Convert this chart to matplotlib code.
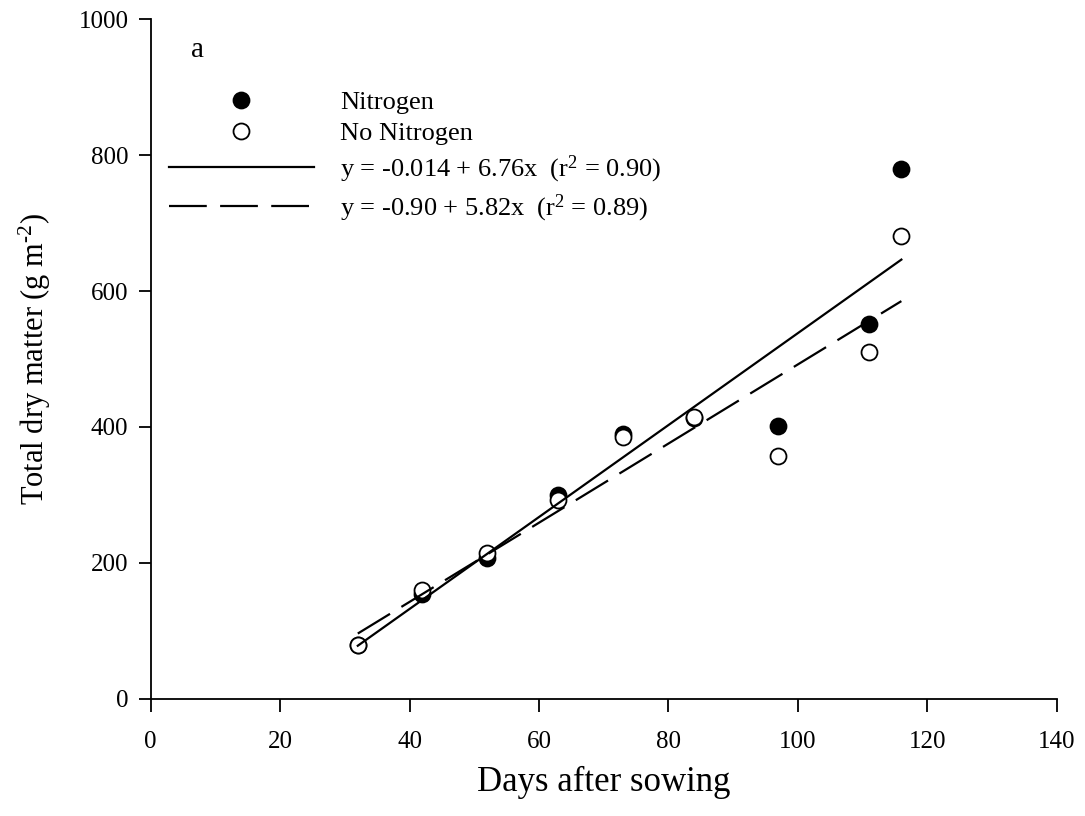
import matplotlib
matplotlib.use("Agg")
import matplotlib.pyplot as plt
import numpy as np

plt.rcParams['font.family'] = ['Liberation Serif', 'DejaVu Serif']
plt.rcParams['mathtext.fontset'] = 'custom'
plt.rcParams['mathtext.rm'] = 'Liberation Serif'
plt.rcParams['mathtext.it'] = 'Liberation Serif:italic'

# sampling dates (days after sowing)
days = [32, 42, 52, 63, 73, 84, 97, 111, 116]
# total dry matter, g m-2
dm_nitrogen = [80, 155, 208, 300, 389, 413, 402, 551, 780]
dm_no_nitrogen = [80, 161, 215, 292, 385, 414, 357, 510, 681]

# fitted regressions (slope, intercept)
fit_n = (6.76, -138.0)
fit_no_n = (5.82, -90.0)
label_fit_n = r'y = -0.014 + 6.76x  (r$^2$ = 0.90)'
label_fit_no_n = r'y = -0.90 + 5.82x  (r$^2$ = 0.89)'

fig = plt.figure(figsize=(10.85, 8.16), dpi=100)
ax = fig.add_axes([0.1389, 0.1434, 0.835, 0.8333])

p1, = ax.plot(days, dm_nitrogen, 'o', ms=11.5, mfc='black', mec='black', mew=1.3,
              ls='none', zorder=2)
p2, = ax.plot(days, dm_no_nitrogen, 'o', ms=11.5, mfc='white', mec='black', mew=1.3,
              ls='none', zorder=3)

xx = np.array([days[0], days[-1]])
l1, = ax.plot(xx, fit_n[0] * xx + fit_n[1], color='black', lw=1.6, zorder=4)
l2, = ax.plot(xx, fit_no_n[0] * xx + fit_no_n[1], color='black', lw=1.6,
              dashes=(17, 6), zorder=4)

ax.set_xlim(0, 140)
ax.set_ylim(0, 1000)
ax.set_xticks(range(0, 141, 20))
ax.set_yticks(range(0, 1001, 200))
ax.spines['top'].set_visible(False)
ax.spines['right'].set_visible(False)
for s in ['left', 'bottom']:
    ax.spines[s].set_linewidth(1.3)
ax.tick_params(direction='out', length=9, width=1.3, labelsize=18)
ax.tick_params(axis='x', pad=14)
ax.tick_params(axis='y', pad=7)

ax.set_xlabel('Days after sowing', fontsize=25, labelpad=9)
ax.set_ylabel(r'Total dry matter (g m$^{\text{-2}}$)', fontsize=22, labelpad=18)

ax.text(0.045, 0.955, 'a', transform=ax.transAxes, fontsize=21, va='center')

ax.legend([p1, p2, l1, l2],
          ['Nitrogen', 'No Nitrogen', label_fit_n, label_fit_no_n],
          loc='upper left', bbox_to_anchor=(0.02, 0.895), frameon=False,
          fontsize=19, handlelength=5.5, handletextpad=1.0, labelspacing=0.3,
          borderaxespad=0, borderpad=0)

fig.savefig('out.png', dpi=100)
